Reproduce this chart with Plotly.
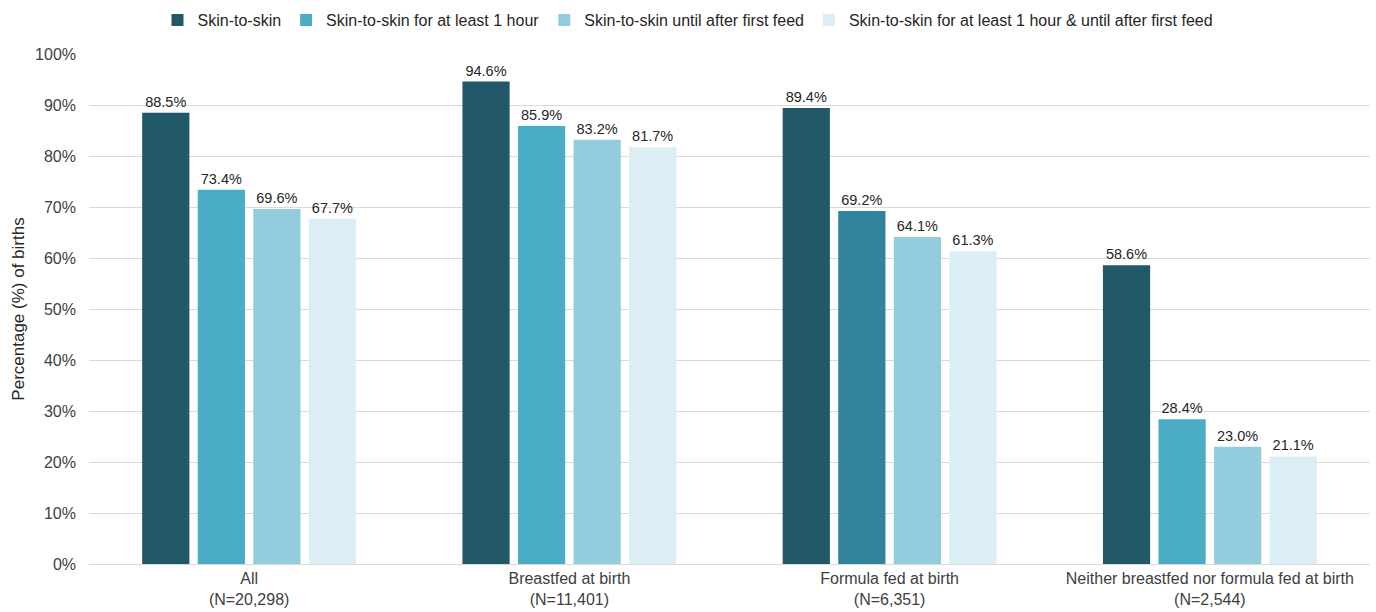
import plotly.graph_objects as go

categories = ["All<br>(N=20,298)", "Breastfed at birth<br>(N=11,401)",
              "Formula fed at birth<br>(N=6,351)",
              "Neither breastfed nor formula fed at birth<br>(N=2,544)"]
series_names = ["Skin-to-skin", "Skin-to-skin for at least 1 hour",
                "Skin-to-skin until after first feed",
                "Skin-to-skin for at least 1 hour & until after first feed"]
skin = [88.5, 94.6, 89.4, 58.6]
skin_1h = [73.4, 85.9, 69.2, 28.4]
skin_feed = [69.6, 83.2, 64.1, 23.0]
skin_1h_feed = [67.7, 81.7, 61.3, 21.1]
y_ticks = [0, 10, 20, 30, 40, 50, 60, 70, 80, 90, 100]
y_tick_labels = [f"{v}%" for v in y_ticks]

series = [skin, skin_1h, skin_feed, skin_1h_feed]
colors = ["#215968", "#4bacc6", "#93cddd", "#daeef3"]
# per-bar colours (the formula-fed 1-hour bar is drawn darker in the original)
bar_colors = [
    [colors[0]] * 4,
    [colors[1], colors[1], "#31849b", colors[1]],
    [colors[2]] * 4,
    [colors[3]] * 4,
]

fig = go.Figure()
for name, vals, bc in zip(series_names, series, bar_colors):
    fig.add_trace(go.Bar(
        x=categories, y=vals, name=name,
        marker=dict(color=bc, line=dict(width=0)),
        text=vals, texttemplate="%{y:.1f}%", textposition="outside",
        textfont=dict(size=14.5, color="#262626"), cliponaxis=False,
    ))

fig.update_layout(
    width=1376, height=612,
    margin=dict(l=89, r=6, t=54, b=48),
    paper_bgcolor="white", plot_bgcolor="white",
    font=dict(family="Liberation Sans, Arial, sans-serif", size=16, color="#262626"),
    barmode="group", bargap=0.306, bargroupgap=0.15,
    showlegend=True,
    legend=dict(orientation="h", xref="container", x=0.5, xanchor="center",
                yref="container", y=0.995, yanchor="top",
                font=dict(size=16, color="#262626"), traceorder="normal",
                itemwidth=30),
    yaxis=dict(range=[0, 100], tickvals=y_ticks, ticktext=y_tick_labels,
               showgrid=True, gridcolor="#d9d9d9", gridwidth=1,
               zeroline=True, zerolinecolor="#d9d9d9", zerolinewidth=1,
               ticklabelstandoff=12,
               tickfont=dict(size=16, color="#404040"),
               title=dict(text="Percentage (%) of births", font=dict(size=17, color="#262626"),
                          standoff=6)),
    xaxis=dict(showgrid=False, tickfont=dict(size=16, color="#404040"),
               showline=False, ticks="", ticklabelstandoff=3, automargin=False),
)

fig.write_html("out.html")
